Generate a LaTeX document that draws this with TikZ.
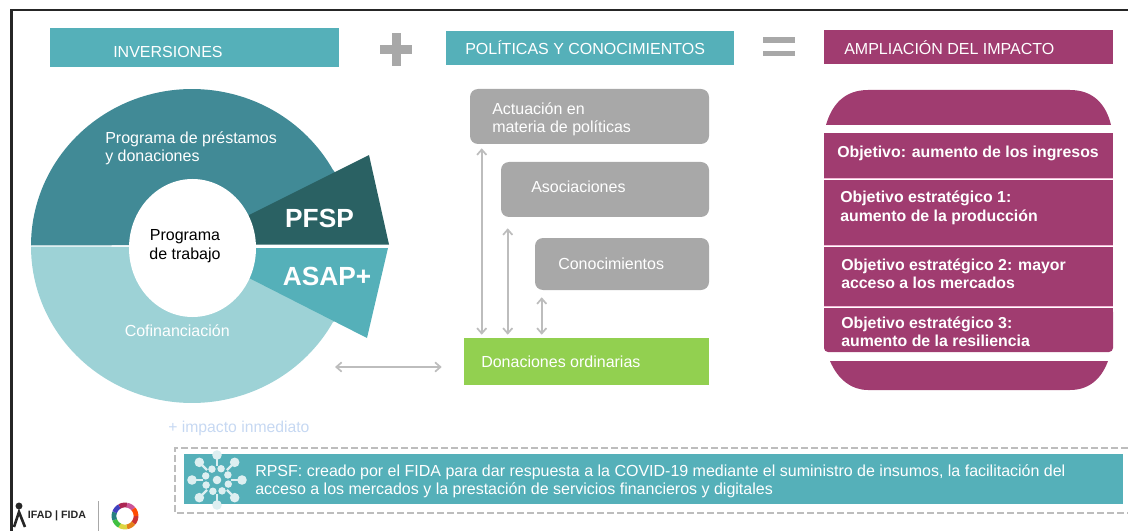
\documentclass[tikz,border=0pt]{standalone}
\usepackage{fontspec}
\setmainfont{Liberation Sans}
\usetikzlibrary{shapes.geometric,arrows.meta}
\definecolor{teal1}{HTML}{55B0B9}
\definecolor{tealdk}{HTML}{418A96}
\definecolor{tealdeep}{HTML}{2A6163}
\definecolor{teallt}{HTML}{9DD2D6}
\definecolor{plum}{HTML}{A03C70}
\definecolor{plumlt}{HTML}{F3B8D6}
\definecolor{gbox}{HTML}{A8A8A8}
\definecolor{garrow}{HTML}{BDBDBD}
\definecolor{grn}{HTML}{92D050}
\definecolor{softblue}{HTML}{C6D8F2}
\colorlet{viruscol}{white!80!teal1}
\tikzset{
  x=0.75pt,y=-0.75pt,
  lbl/.style={text=white,font=\fontsize{12}{13.5}\selectfont,align=left,anchor=west,inner sep=0},
  bigl/.style={text=white,font=\fontsize{19.7}{22}\selectfont\bfseries,inner sep=0},
  objl/.style={text=white,font=\fontsize{11.9}{13.5}\selectfont\bfseries,align=left,anchor=west,inner sep=0},
  dblarrow/.style={draw=garrow,line width=1.3pt,{Straight Barb[length=4pt,width=7pt]}-{Straight Barb[length=4pt,width=7pt]}},
  greybox/.style={fill=gbox,rounded corners=6pt},
  plumrow/.style={fill=plum,draw=none},
}
\begin{document}
\begin{tikzpicture}
\useasboundingbox (0,0) rectangle (1128,531);
% frame
\draw[line width=1.8pt,color=black!85] (1128,10) -- (11.5,10) -- (11.5,531);
% header bars
\node[fill=teal1,minimum width=216.75pt,minimum height=29.25pt,inner sep=0] (inv) at (194.5,47.5) {};
\node[lbl,anchor=west] (invt) at (113,51.5) {INVERSIONES};
\node[fill=teal1,minimum width=216pt,minimum height=25.5pt,inner sep=0] (pol) at (590,48) {};
\node[lbl,anchor=west] (polt) at (465,48) {POLÍTICAS Y CONOCIMIENTOS};
\node[fill=plum,minimum width=216.75pt,minimum height=25.5pt,inner sep=0] (amp) at (968.5,47) {};
\node[lbl,anchor=west] (ampt) at (844,47.5) {AMPLIACIÓN DEL IMPACTO};
% plus, equals
\fill[gbox] (380,45) rectangle (412,54);
\fill[gbox] (392,33) rectangle (401,66);
\fill[gbox] (763,37) rectangle (795,43);
\fill[gbox] (763,51) rectangle (795,56);
% pie
\fill[tealdk] (192,245) -- plot[domain=180:29,samples=80] ({192+161*cos(\x)},{245.5-156.5*sin(\x)}) -- (345,185) -- (260,225) -- cycle;
\fill[teallt] (192,247) -- plot[domain=180:331,samples=80] ({192+161*cos(\x)},{246.5-156.5*sin(\x)}) -- (345,315) -- (260,270) -- cycle;
\fill[tealdeep] (192,244.5) -- (249,215) -- (369,155) -- (389,244.5) -- cycle;
\fill[teal1] (192,248) -- (388,248) -- (367,338) -- (249,278) -- cycle;
\node[fill=white,ellipse,minimum width=95.25pt,minimum height=103.5pt,inner sep=0] (core) at (192.5,248) {};
\node[align=center,inner sep=0,font=\fontsize{12}{14.3}\selectfont,text=black] (coret) at (185,246) {Programa\\de trabajo};
\node[lbl] (prest) at (105,148) {Programa de préstamos\\y donaciones};
\node[lbl] (cof) at (124.5,331) {Cofinanciación};
\node[bigl] (pfsp) at (319.5,218) {PFSP};
\node[bigl] (asap) at (327,276) {ASAP+};
% middle boxes
\node[greybox,minimum width=179.25pt,minimum height=41.25pt,inner sep=0] (act) at (589.5,116.5) {};
\node[lbl] (actt) at (492,119.5) {Actuación en\\materia de políticas};
\node[greybox,minimum width=156pt,minimum height=41.25pt,inner sep=0] (aso) at (605,189.5) {};
\node[lbl] (asot) at (531,186.5) {Asociaciones};
\node[greybox,minimum width=130.5pt,minimum height=39pt,inner sep=0] (con) at (622,264) {};
\node[lbl] (cont) at (558,263.5) {Conocimientos};
\node[fill=grn,minimum width=183.75pt,minimum height=35.25pt,inner sep=0] (don) at (586.5,361.5) {};
\node[lbl] (dont) at (481,362) {Donaciones ordinarias};
% arrows
\draw[dblarrow] ([shift={(12,4)}]act.south west) -- ([shift={(18,-3)}]don.north west);
\draw[dblarrow] ([shift={(7,11)}]aso.south west) -- ([shift={(44,-3)}]don.north west);
\draw[dblarrow] ([shift={(7,7)}]con.south west) -- ([shift={(78,-3)}]don.north west);
\coordinate (pieright) at (335,367);
\draw[dblarrow] (pieright) -- ([shift={(-22,0)}]don.west |- pieright);
% right column
\fill[plum] (826,125) .. controls (832,104) and (845,90) .. (868,90) -- (1070,90) .. controls (1093,90) and (1106,104) .. (1111,125) -- cycle;
\fill[plum] (830,361) .. controls (838,380) and (852,390) .. (868,390) -- (1070,390) .. controls (1088,390) and (1101,380) .. (1108,361) -- cycle;
\node[plumrow,minimum width=216.75pt,minimum height=33.75pt,inner sep=0] (r0) at (968.5,155.5) {};
\node[plumrow,minimum width=216.75pt,minimum height=48.75pt,inner sep=0] (r1) at (968.5,212.5) {};
\node[plumrow,minimum width=216.75pt,minimum height=44.25pt,inner sep=0] (r2) at (968.5,276.5) {};
\node[fill=plum,rounded corners=3pt,minimum width=216.75pt,minimum height=33pt,inner sep=0] (r3) at (968.5,330) {};
\fill[plum] (r3.north west) rectangle (r3.east);
\draw[plumlt,line width=1pt] (r0.south west) -- (r0.south east);
\draw[plumlt,line width=1pt] (r1.south west) -- (r1.south east);
\draw[plumlt,line width=1pt] (r2.south west) -- (r2.south east);
\node[objl] (o0) at (837,153.5) {Objetivo: aumento de los ingresos};
\node[objl] (o1) at (840,207.5) {Objetivo estratégico 1:\\[0.7pt]aumento de la producción};
\node[objl] (o2) at (841,274) {Objetivo estratégico 2: mayor\\acceso a los mercados};
\node[objl] (o3) at (841,331.5) {Objetivo estratégico 3:\\aumento de la resiliencia};
% footer
\node[lbl,text=softblue,font=\fontsize{11.8}{13}\selectfont] (imp) at (168,428) {+ impacto inmediato};
\draw[garrow,line width=0.8pt,dash pattern=on 5pt off 2.5pt] (1128,448) -- (175,448) -- (175,513) -- (1128,513);
\fill[teal1] (184,454) rectangle (1123,504);
\node[lbl] (rpsf) at (255,481) {RPSF: creado por el FIDA para dar respuesta a la COVID-19 mediante el suministro de insumos, la facilitación del\\acceso a los mercados y la prestación de servicios financieros y digitales};
% virus icon
\foreach \a in {0,45,...,315}{
  \draw[viruscol,line width=1.6pt] (217,480) ++(\a:14) -- ++(\a:12);
  \fill[viruscol] (217,480) ++(\a:25) circle[radius=3.6pt];
}
\foreach \a in {20,65,...,340}{
  \fill[viruscol] (217,480) ++(\a:12) circle[radius=2.8pt];
}
\fill[viruscol] (217,480) circle[radius=3.2pt];
% logos
\node[inner sep=0,font=\fontsize{8}{9}\selectfont\bfseries,text=black!85] (ifad) at (57,516) {IFAD | FIDA};
\draw[black!85,line width=2pt] (14,527) -- (19,512) -- (25,527);
\fill[black!85] (19,506) circle[radius=2.6pt];
\draw[gbox,line width=.6pt] (98,501) -- (98,531);
\foreach \a/\c in {0/red!60!gray,40/orange!80!gray,80/yellow!70!gray,120/green!50!gray,160/teal!70!gray,200/blue!50!gray,240/purple!70!gray,280/magenta!60!gray,320/orange!60!red}{
  \draw[\c,line width=3.6pt] plot[domain=\a:\a+40,samples=6] ({125+11*cos(\x)},{516+11*sin(\x)});
}
\end{tikzpicture}
\end{document}
